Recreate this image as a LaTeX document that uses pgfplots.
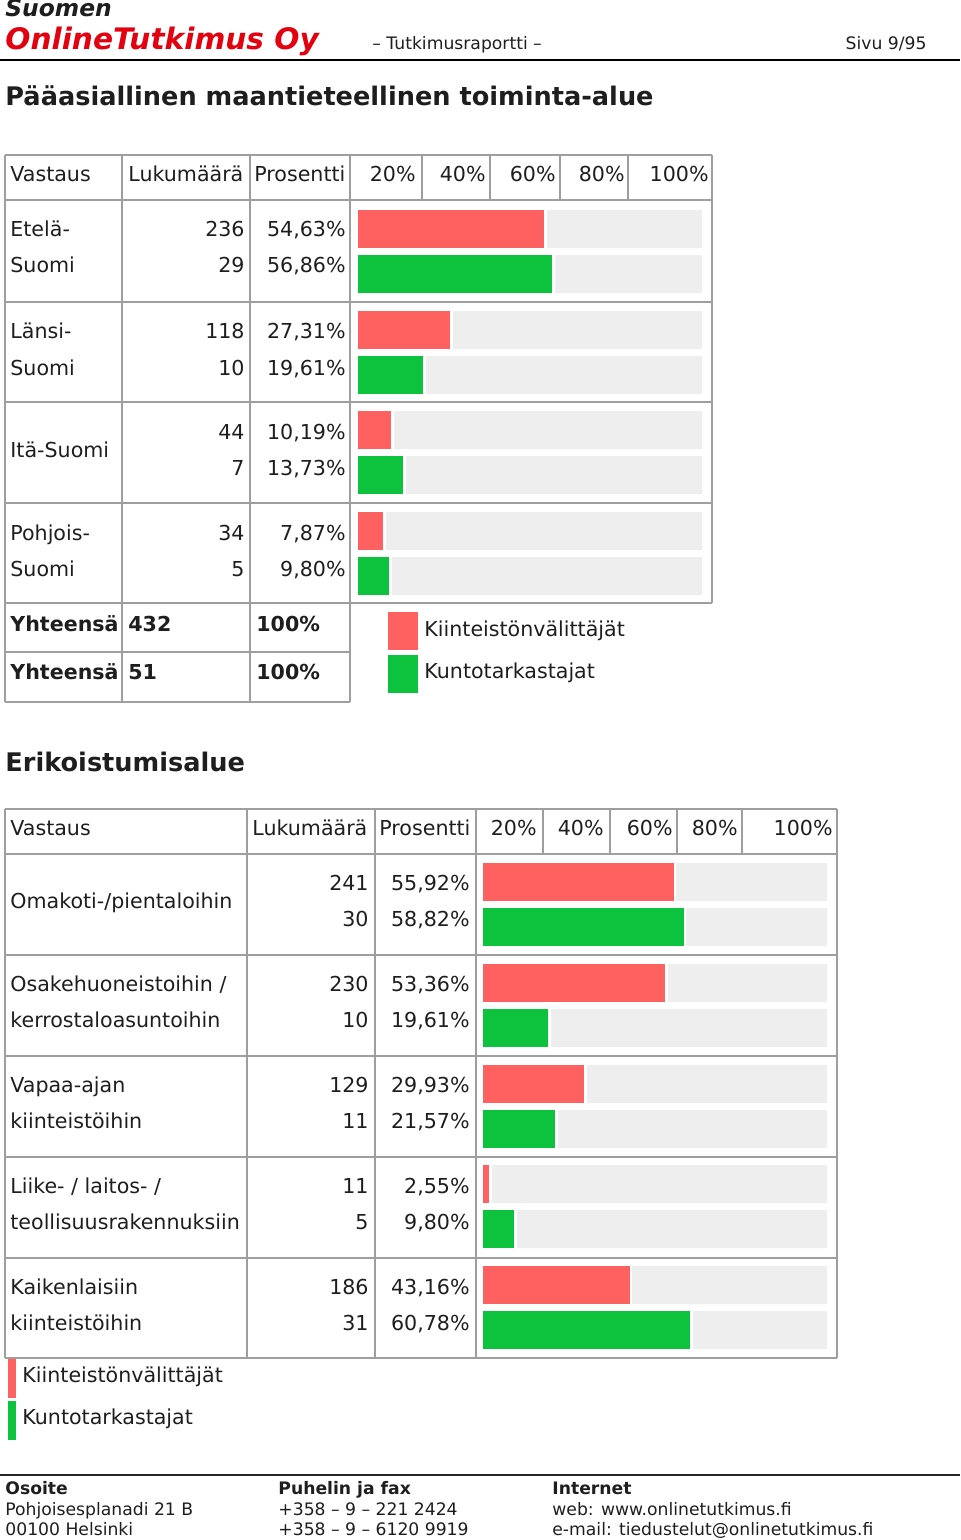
\documentclass[border=0pt]{standalone}
\usepackage{pgfplots}
\pgfplotsset{compat=1.18}
\usepackage{fontspec}
\setmainfont{DejaVu Sans}

\definecolor{barred}{HTML}{FF6060}
\definecolor{bargreen}{HTML}{0DC33D}
\definecolor{track}{HTML}{EEEEEE}
\definecolor{rule}{HTML}{9E9E9E}
\definecolor{ink}{HTML}{1E1E1E}
\definecolor{brand}{HTML}{E3000F}

\newcommand\tf{\fontsize{10.3}{12}\selectfont}
\newcommand\ff{\fontsize{8.6}{10}\selectfont}
\newcommand\hf{\bfseries\fontsize{12.8}{15}\selectfont}

\pgfplotsset{
  trackaxis/.style={
    xbar, scale only axis, hide axis, clip=false,
    xmin=0, xmax=100, enlargelimits=false,
    y dir=reverse, width=172.5pt, anchor=north west,
  },
  track/.style={xbar, bar shift=0pt, fill=track, draw=none, bar width=19pt},
  val/.style={xbar, bar shift=0pt, fill=#1, draw=white, line width=1.4pt, bar width=20.4pt},
}

\begin{document}
\begin{tikzpicture}[x=0.5pt, y=-0.5pt, every node/.style={inner sep=0pt, text=ink}]
\useasboundingbox (0,0) rectangle (960,1540);

% ---- page header
\node[anchor=base west, font=\bfseries\itshape\fontsize{11.7}{13}\selectfont] at (5,17) {Suomen};
\node[anchor=base west, text=brand, font=\bfseries\itshape\fontsize{14.8}{17}\selectfont] at (5,50) {OnlineTutkimus Oy};
\node[anchor=base west, font=\ff] at (372,50) {– Tutkimusraportti –};
\node[anchor=base east, font=\ff] at (927,50) {Sivu 9/95};
\draw[black, line width=0.8pt] (0,60) -- (960,60);

\node[anchor=base west, font=\hf] at (5,106) {Pääasiallinen maantieteellinen toiminta-alue};

% ---- table 1 grid
\begin{scope}[rule, line width=1pt]
  \foreach \y in {155,200,302,402,503,603} \draw (5,\y) -- (712,\y);
  \foreach \y in {652,702} \draw (5,\y) -- (350,\y);
  \foreach \x in {5,122,250,350} \draw (\x,155) -- (\x,702);
  \draw (712,155) -- (712,603);
  \foreach \x in {422,490,560,628} \draw (\x,155) -- (\x,200);
\end{scope}

\begin{scope}[every node/.append style={font=\tf}]
  \node[anchor=base west] at (10,182) {Vastaus};
  \node[anchor=base west] at (128,182) {Lukumäärä};
  \node[anchor=base west] at (254,182) {Prosentti};
  \node[anchor=base east] at (416,182) {20\%};
  \node[anchor=base east] at (486,182) {40\%};
  \node[anchor=base east] at (556,182) {60\%};
  \node[anchor=base east] at (625,182) {80\%};
  \node[anchor=base east] at (709,182) {100\%};

  \node[anchor=base west] at (10,237) {Etelä-};
  \node[anchor=base west] at (10,273) {Suomi};
  \node[anchor=base east] at (245,237) {236};
  \node[anchor=base east] at (245,273) {29};
  \node[anchor=base east] at (346,237) {54,63\%};
  \node[anchor=base east] at (346,273) {56,86\%};

  \node[anchor=base west] at (10,339) {Länsi-};
  \node[anchor=base west] at (10,375) {Suomi};
  \node[anchor=base east] at (245,339) {118};
  \node[anchor=base east] at (245,375) {10};
  \node[anchor=base east] at (346,339) {27,31\%};
  \node[anchor=base east] at (346,375) {19,61\%};

  \node[anchor=base west] at (10,457) {Itä-Suomi};
  \node[anchor=base east] at (245,439) {44};
  \node[anchor=base east] at (245,475) {7};
  \node[anchor=base east] at (346,439) {10,19\%};
  \node[anchor=base east] at (346,475) {13,73\%};

  \node[anchor=base west] at (10,540) {Pohjois-};
  \node[anchor=base west] at (10,576) {Suomi};
  \node[anchor=base east] at (245,540) {34};
  \node[anchor=base east] at (245,576) {5};
  \node[anchor=base east] at (346,540) {7,87\%};
  \node[anchor=base east] at (346,576) {9,80\%};

  \node[anchor=base west, font=\tf\bfseries] at (10,631) {Yhteensä};
  \node[anchor=base west, font=\tf\bfseries] at (128,631) {432};
  \node[anchor=base west, font=\tf\bfseries] at (256,631) {100\%};
  \node[anchor=base west, font=\tf\bfseries] at (10,679) {Yhteensä};
  \node[anchor=base west, font=\tf\bfseries] at (128,679) {51};
  \node[anchor=base west, font=\tf\bfseries] at (256,679) {100\%};

  \fill[barred] (388,612) rectangle (418,650);
  \fill[bargreen] (388,655) rectangle (418,693);
  \node[anchor=base west] at (424,636) {Kiinteistönvälittäjät};
  \node[anchor=base west] at (424,678) {Kuntotarkastajat};
\end{scope}

\coordinate (A) at (357,200);
\begin{axis}[trackaxis, at={(A)}, height=201.5pt, ymin=200, ymax=603]
\addplot[track] coordinates {(100,229) (100,274) (100,330) (100,375) (100,430) (100,475) (100,531) (100,576)};
\addplot[val=barred] coordinates {(54.63,229) (27.31,330) (10.19,430) (7.87,531)};
\addplot[val=bargreen] coordinates {(56.86,274) (19.61,375) (13.73,475) (9.80,576)};
\end{axis}

% ---- second table
\node[anchor=base west, font=\hf] at (5,771) {Erikoistumisalue};

\begin{scope}[rule, line width=1pt]
  \foreach \y in {809,854,955,1056,1157,1258,1358} \draw (5,\y) -- (837,\y);
  \foreach \x in {5,247,375,476,837} \draw (\x,809) -- (\x,1358);
  \foreach \x in {543,610,677,742} \draw (\x,809) -- (\x,854);
\end{scope}

\begin{scope}[every node/.append style={font=\tf}]
  \node[anchor=base west] at (10,835) {Vastaus};
  \node[anchor=base west] at (252,835) {Lukumäärä};
  \node[anchor=base west] at (379,835) {Prosentti};
  \node[anchor=base east] at (537,835) {20\%};
  \node[anchor=base east] at (604,835) {40\%};
  \node[anchor=base east] at (673,835) {60\%};
  \node[anchor=base east] at (738,835) {80\%};
  \node[anchor=base east] at (833,835) {100\%};

  \node[anchor=base west] at (10,908) {Omakoti-/pientaloihin};
  \node[anchor=base east] at (369,890) {241};
  \node[anchor=base east] at (369,926) {30};
  \node[anchor=base east] at (470,890) {55,92\%};
  \node[anchor=base east] at (470,926) {58,82\%};

  \node[anchor=base west] at (10,991) {Osakehuoneistoihin /};
  \node[anchor=base west] at (10,1027) {kerrostaloasuntoihin};
  \node[anchor=base east] at (369,991) {230};
  \node[anchor=base east] at (369,1027) {10};
  \node[anchor=base east] at (470,991) {53,36\%};
  \node[anchor=base east] at (470,1027) {19,61\%};

  \node[anchor=base west] at (10,1092) {Vapaa-ajan};
  \node[anchor=base west] at (10,1128) {kiinteistöihin};
  \node[anchor=base east] at (369,1092) {129};
  \node[anchor=base east] at (369,1128) {11};
  \node[anchor=base east] at (470,1092) {29,93\%};
  \node[anchor=base east] at (470,1128) {21,57\%};

  \node[anchor=base west] at (10,1193) {Liike- / laitos- /};
  \node[anchor=base west] at (10,1229) {teollisuusrakennuksiin};
  \node[anchor=base east] at (369,1193) {11};
  \node[anchor=base east] at (369,1229) {5};
  \node[anchor=base east] at (470,1193) {2,55\%};
  \node[anchor=base east] at (470,1229) {9,80\%};

  \node[anchor=base west] at (10,1294) {Kaikenlaisiin};
  \node[anchor=base west] at (10,1330) {kiinteistöihin};
  \node[anchor=base east] at (369,1294) {186};
  \node[anchor=base east] at (369,1330) {31};
  \node[anchor=base east] at (470,1294) {43,16\%};
  \node[anchor=base east] at (470,1330) {60,78\%};

  \fill[barred] (8,1359) rectangle (16,1398);
  \fill[bargreen] (8,1401) rectangle (16,1440);
  \node[anchor=base west] at (22,1382) {Kiinteistönvälittäjät};
  \node[anchor=base west] at (22,1424) {Kuntotarkastajat};
\end{scope}

\coordinate (B) at (482,854);
\begin{axis}[trackaxis, at={(B)}, height=252pt, ymin=854, ymax=1358]
\addplot[track] coordinates {(100,882) (100,927) (100,983) (100,1028) (100,1084) (100,1129) (100,1184) (100,1229) (100,1285) (100,1330)};
\addplot[val=barred] coordinates {(55.92,882) (53.36,983) (29.93,1084) (2.55,1184) (43.16,1285)};
\addplot[val=bargreen] coordinates {(58.82,927) (19.61,1028) (21.57,1129) (9.80,1229) (60.78,1330)};
\end{axis}

% ---- page footer
\draw[black!85, line width=0.8pt] (0,1475) -- (960,1475);
\begin{scope}[every node/.append style={font=\ff, anchor=base west}]
  \node[font=\ff\bfseries] at (5,1494) {Osoite};
  \node at (5,1515) {Pohjoisesplanadi 21 B};
  \node at (5,1535) {00100 Helsinki};
  \node[font=\ff\bfseries] at (278,1494) {Puhelin ja fax};
  \node at (278,1515) {+358 – 9 – 221 2424};
  \node at (278,1535) {+358 – 9 – 6120 9919};
  \node[font=\ff\bfseries] at (552,1494) {Internet};
  \node at (552,1515) {web: www.onlinetutkimus.fi};
  \node at (552,1535) {e-mail: tiedustelut@onlinetutkimus.fi};
\end{scope}
\end{tikzpicture}
\end{document}
